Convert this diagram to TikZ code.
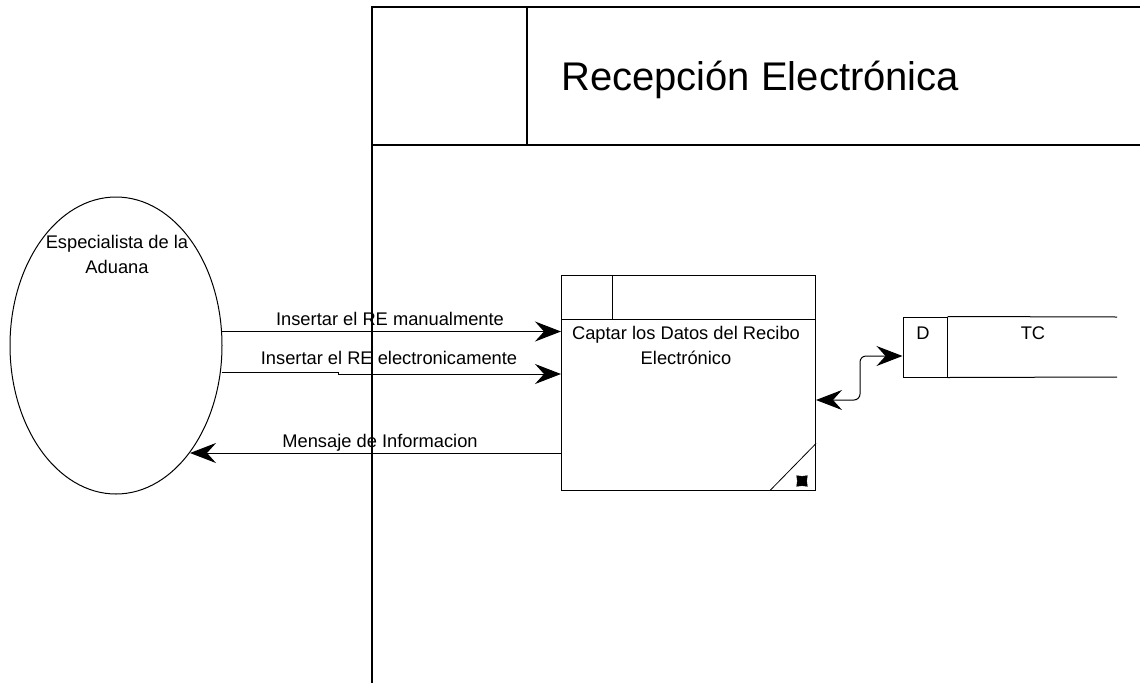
\documentclass[tikz,border=0pt]{standalone}
\usepackage{fontspec}
\setmainfont{Liberation Sans}
\usetikzlibrary{arrows.meta,shapes.geometric}
\begin{document}
\begin{tikzpicture}[x=1pt,y=-1pt,
  thin line/.style={line width=1pt},
  frame line/.style={line width=1.3pt},
  lbl/.style={font=\fontsize{18.3}{25}\selectfont, inner sep=0pt},
  bigtip/.style={-{Stealth[length=26pt,width=20pt,inset=9pt]}},
  bothtips/.style={{Stealth[length=26pt,width=20pt,inset=9pt]}-{Stealth[length=26pt,width=20pt,inset=9pt]}}]
\useasboundingbox (0,0) rectangle (1140,683);

% swimlane frame and header
\draw[frame line] (372,683) -- (372,7) -- (1140,7);
\draw[frame line] (372,145) -- (1140,145);
\draw[frame line] (527,7) -- (527,145);
\node[font=\fontsize{40}{46}\selectfont, anchor=base west, inner sep=0pt] (title) at (561,90) {Recepción Electrónica};

% external entity
\node[draw, thin line, ellipse, minimum width=212pt, minimum height=297pt, inner sep=0pt] (esp) at (116,345.5) {};
\node[lbl, align=center, anchor=base] (espt) at (117,273) {Especialista de la\\Aduana};

% process
\node[draw, thin line, minimum width=254pt, minimum height=215pt, inner sep=0pt] (proc) at (688.5,382.5) {};
\draw[thin line] ([yshift=-45pt]proc.north west) -- ([yshift=-45pt]proc.north east);
\draw[thin line] ([xshift=51pt]proc.north west) -- ([xshift=51pt,yshift=-45pt]proc.north west);
\node[lbl, align=center, anchor=base] (proct) at (686,364) {Captar los Datos del Recibo\\Electrónico};
\draw[line width=0.8pt] ([xshift=-46pt]proc.south east) -- ([yshift=47pt]proc.south east);
\node[star, star points=4, star point ratio=1.6, fill, draw, minimum size=15pt, inner sep=0pt, rotate=45] (mark) at (802,481) {};

% data store
\node[draw, thin line, minimum width=44pt, minimum height=60pt, inner sep=0pt] (dcell) at (925,347) {};
\draw[thin line] (dcell.north east) -- (1117,317);
\draw[thin line] (dcell.south east) -- (1117,377);
\node[lbl] (dlbl) at (923,333) {D};
\node[lbl] (tclbl) at (1033,333) {TC};

% data flows
\coordinate (a1) at (221.5,331.5);
\coordinate (a2) at (221.5,372);
\coordinate (a3) at (190,453);
\draw[thin line, bigtip] (a1) -- (a1 -| proc.west);
\node[lbl, anchor=base] (l1) at (390,325) {Insertar el RE manualmente};
\draw[thin line, bigtip] (a2) -- (338,372) -- (338,374) -- (proc.west |- 0,374);
\node[lbl, anchor=base] (l2) at (389,364) {Insertar el RE electronicamente};
\draw[thin line, bigtip] (proc.west |- a3) -- (a3);
\node[lbl, anchor=base] (l3) at (380,447) {Mensaje de Informacion};

\draw[thin line, bothtips, rounded corners=6pt] ([yshift=-17.5pt]proc.east) -- ++(44,0) |- ([yshift=-9pt]dcell.west);
\end{tikzpicture}
\end{document}
